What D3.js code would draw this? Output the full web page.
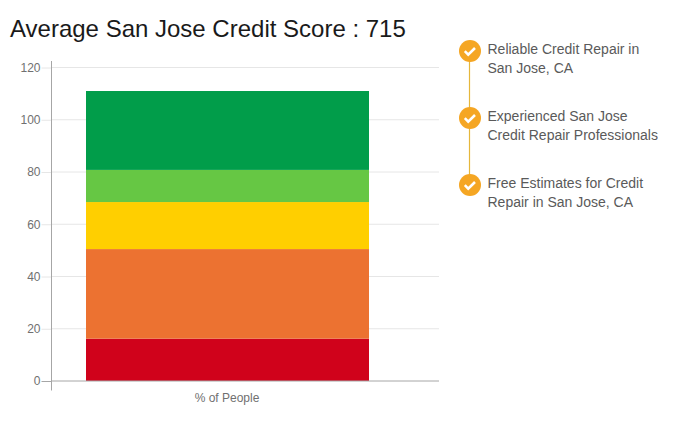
<!DOCTYPE html>
<html>
<head>
<meta charset="utf-8">
<script src="https://cdn.jsdelivr.net/npm/d3@7"></script>
<style>
html, body { margin: 0; padding: 0; background: #fff; }
svg { display: block; font-family: "Liberation Sans", Arial, sans-serif; }
</style>
</head>
<body>
<div id="chart"></div>
<script>
const categories = ["% of People"];
const bandNames = ["Very Poor", "Poor", "Fair", "Good", "Excellent"];
const bandValues = [16.2, 34.3, 18, 12.3, 30.2];
const bandColors = ["#d0021b", "#ec7231", "#ffcf00", "#66c744", "#019d4a"];
const yTicks = [0, 20, 40, 60, 80, 100, 120];
const points = [
    ["Reliable Credit Repair in", "San Jose, CA"],
    ["Experienced San Jose", "Credit Repair Professionals"],
    ["Free Estimates for Credit", "Repair in San Jose, CA"]
];

const width = 686;
const height = 423;

const svg = d3.select("#chart")
    .append("svg")
    .attr("width", width)
    .attr("height", height);

svg.append("text")
    .attr("x", 10)
    .attr("y", 37)
    .style("font-size", "24px")
    .attr("fill", "#1a1a1a")
    .text("Average San Jose Credit Score : 715");

const y = d3.scaleLinear().domain([0, 120]).range([381, 67.5]);
const x = d3.scaleBand().domain(categories).range([86, 369]);

// gridlines
svg.selectAll("line.grid")
    .data(yTicks.slice(1))
    .enter().append("line")
    .attr("class", "grid")
    .attr("x1", 51.5)
    .attr("x2", 439)
    .attr("y1", d => y(d))
    .attr("y2", d => y(d))
    .attr("stroke", "#e6e6e6");

// stacked bar
const stacked = d3.cumsum(bandValues);
svg.selectAll("rect.band")
    .data(bandValues)
    .enter().append("rect")
    .attr("class", "band")
    .attr("x", x(categories[0]))
    .attr("width", x.bandwidth())
    .attr("y", (d, i) => y(stacked[i]))
    .attr("height", d => y(0) - y(d))
    .attr("fill", (d, i) => bandColors[i]);

// axes
const yAxis = d3.axisLeft(y).tickValues(yTicks).tickSize(10).tickPadding(1).tickSizeOuter(0);
const yG = svg.append("g").attr("transform", "translate(51.5,0)").call(yAxis);
yG.select(".domain").remove();
yG.selectAll("line").attr("stroke", d => d === 0 ? "#a6a6a6" : "#e6e6e6");
yG.selectAll("text").attr("fill", "#707070").style("font-size", "12px").attr("font-family", "Liberation Sans");

svg.append("line")
    .attr("x1", 51.5).attr("x2", 51.5)
    .attr("y1", 61).attr("y2", 390.5)
    .attr("stroke", "#a6a6a6");
svg.append("line")
    .attr("x1", 51.5).attr("x2", 439)
    .attr("y1", y(0)).attr("y2", y(0))
    .attr("stroke", "#a6a6a6");

svg.append("text")
    .attr("x", x(categories[0]) + x.bandwidth() / 2 - 0.5)
    .attr("y", 402)
    .attr("text-anchor", "middle")
    .attr("fill", "#707070")
    .style("font-size", "12px")
    .text(categories[0]);

// feature list on the right
const itemY = d3.scalePoint().domain(d3.range(points.length)).range([51, 185]);

svg.append("line")
    .attr("x1", 469.5).attr("x2", 469.5)
    .attr("y1", itemY(0)).attr("y2", itemY(2))
    .attr("stroke", "#e5b73b")
    .attr("stroke-width", 1.2);

const items = svg.selectAll("g.item")
    .data(points)
    .enter().append("g")
    .attr("class", "item")
    .attr("transform", (d, i) => `translate(470,${itemY(i)})`);

items.append("circle")
    .attr("r", 11)
    .attr("fill", "#f5a623");

items.append("path")
    .attr("d", "M-5.2,0.2 L-1.8,3.6 L5,-3")
    .attr("fill", "none")
    .attr("stroke", "#fff")
    .attr("stroke-width", 2.6);

items.selectAll("text")
    .data(d => d)
    .enter().append("text")
    .attr("x", 17.5)
    .attr("y", (d, i) => 3 + i * 19)
    .attr("fill", "#5a5a5a")
    .style("font-size", "14px")
    .text(d => d);
</script>
</body>
</html>
